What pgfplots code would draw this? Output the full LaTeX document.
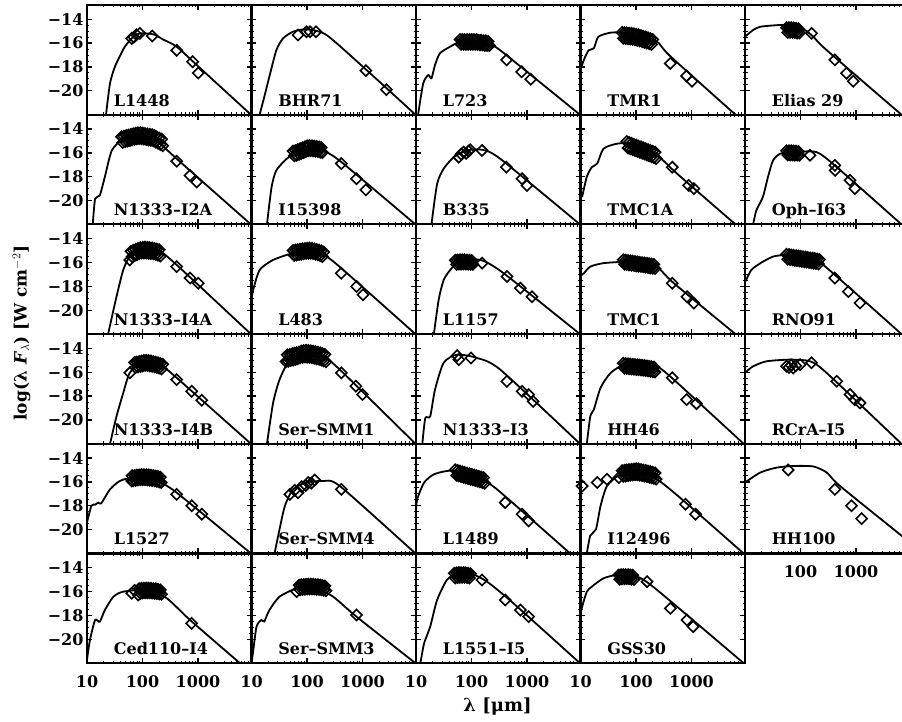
\documentclass[border=0pt]{standalone}
\usepackage{pgfplots}
\pgfplotsset{compat=1.18}
\usepackage{fontspec}
\setmainfont{DejaVu Serif}
\newcommand{\lbl}{\bfseries\fontsize{16}{18}\selectfont}
\pgfplotsset{
    scale only axis, width=164.5pt, height=109.7pt,
    xmin=10, xmax=9200, ymin=-22, ymax=-12.8,
    xtick={10,100,1000}, ytick={-20,-18,-16,-14},
    minor xtick={20,30,40,50,60,70,80,90,200,300,400,500,600,700,800,900,2000,3000,4000,5000,6000,7000,8000,9000},
    minor y tick num=3,
    xticklabels={}, yticklabels={},
    tick align=inside, major tick length=5pt, minor tick length=2.5pt,
    major tick style={black, line width=1.3pt},
    minor tick style={black, line width=1pt},
    axis line style={line width=2.2pt},
    tick label style={font=\lbl},
    xticklabel style={yshift=-9pt},
}
\tikzset{
  sedcurve/.style={black, line width=1.8pt, smooth, tension=0.4},
  seddiam/.style={black, only marks, mark=square, mark size=3.9pt, mark options={rotate=45, solid, line width=1.6pt}},
  sedname/.style={anchor=base west, font=\lbl, inner sep=0pt},
}
\begin{document}
\begin{tikzpicture}
\useasboundingbox (0,0) rectangle (902pt,722pt);
\clip (0,0) rectangle (902pt,722pt);
% ---------------- row 0
\begin{semilogxaxis}[anchor=south west, at={(87pt,607.3pt)}, yticklabels={−20,−18,−16,−14}]
\addplot[sedcurve] coordinates {(22,-22)(26,-19.35)(32,-17.95)(40,-17.0)(48,-16.3)(64,-15.6)(90,-15.18)(157,-15.26)(237,-15.7)(413,-16.3)(1090,-18.09)(9000,-22)};
\addplot[seddiam] coordinates {(64,-15.6)(70,-15.5)(78,-15.3)(90,-15.18)(150,-15.4)(413,-16.6)(800,-17.56)(1010,-18.5)};
\node[sedname] at (rel axis cs:0.162,0.078) {L1448};
\end{semilogxaxis}
\begin{semilogxaxis}[anchor=south west, at={(251.5pt,607.3pt)}]
\addplot[sedcurve] coordinates {(14,-22)(17,-20.5)(21,-18.8)(28,-16.6)(37,-15.6)(56,-15.04)(98,-14.84)(225,-15.32)(1180,-18.25)(9000,-22)};
\addplot[seddiam] coordinates {(69,-15.32)(98,-15.04)(113,-15.04)(145,-15.04)(1150,-18.3)(2700,-19.9)};
\node[sedname] at (rel axis cs:0.162,0.078) {BHR71};
\end{semilogxaxis}
\begin{semilogxaxis}[anchor=south west, at={(416pt,607.3pt)}]
\addplot[sedcurve] coordinates {(10.9,-22)(13.5,-19.37)(16.7,-18.67)(19,-18.95)(22,-17.83)(27,-16.85)(41,-16.3)(62,-15.88)(120,-15.75)(232,-16.3)(325,-16.58)(9000,-22)};
\addplot[seddiam] coordinates {(62,-15.7)(65,-16.1)(68,-15.7)(72,-16.1)(75,-15.7)(79,-16.1)(83,-15.7)(87,-16.1)(92,-15.7)(96,-16.1)(101,-15.7)(106,-16.1)(111,-15.7)(117,-16.1)(123,-15.7)(129,-16.1)(135,-15.75)(142,-16.15)(149,-15.75)(157,-16.15)(165,-15.8)(173,-16.2)(181,-15.8)(190,-16.2)(200,-15.85)(210,-16.2)(430,-17.4)(800,-18.4)(1170,-19.03)};
\node[sedname] at (rel axis cs:0.162,0.078) {L723};
\end{semilogxaxis}
\begin{semilogxaxis}[anchor=south west, at={(580.5pt,607.3pt)}]
\addplot[sedcurve] coordinates {(10,-18.25)(11.5,-17.4)(14,-16.6)(17.4,-16.43)(21,-15.46)(35,-15.12)(60,-15.12)(120,-15.4)(240,-15.88)(415,-17.1)(6200,-22)};
\addplot[seddiam] coordinates {(56,-15.1)(59,-15.6)(62,-15.12)(65,-15.62)(68,-15.14)(72,-15.64)(75,-15.16)(79,-15.66)(83,-15.18)(87,-15.68)(92,-15.22)(96,-15.72)(101,-15.26)(106,-15.78)(111,-15.3)(117,-15.82)(123,-15.36)(129,-15.88)(135,-15.42)(142,-15.94)(149,-15.48)(157,-16.0)(165,-15.55)(173,-16.05)(181,-15.62)(190,-16.12)(200,-15.7)(415,-17.7)(815,-18.75)(1020,-19.2)};
\node[sedname] at (rel axis cs:0.162,0.078) {TMR1};
\end{semilogxaxis}
\begin{semilogxaxis}[anchor=south west, at={(745pt,607.3pt)}]
\addplot[sedcurve] coordinates {(10,-15.46)(14,-14.9)(19,-14.62)(43,-14.48)(74,-14.56)(120,-14.9)(170,-15.46)(295,-16.58)(6600,-22)};
\addplot[seddiam] coordinates {(56,-14.7)(59,-15.1)(62,-14.7)(65,-15.1)(68,-14.7)(72,-15.1)(75,-14.72)(79,-15.12)(83,-14.75)(87,-15.15)(92,-14.8)(96,-15.15)(158,-15.18)(415,-17.4)(675,-18.53)(890,-19.2)};
\node[sedname] at (rel axis cs:0.162,0.078) {Elias 29};
\end{semilogxaxis}
% ---------------- row 1
\begin{semilogxaxis}[anchor=south west, at={(87pt,497.6pt)}, yticklabels={−20,−18,−16,−14}]
\addplot[sedcurve] coordinates {(12.7,-22)(14,-19.85)(17,-19.57)(21,-18.0)(28,-15.8)(45,-14.8)(79,-14.4)(130,-14.7)(210,-15.23)(413,-16.5)(9000,-22)};
\addplot[seddiam] coordinates {(42,-14.65)(44,-15.13)(46,-14.6)(49,-15.07)(51,-14.55)(54,-15.02)(56,-14.5)(59,-14.97)(62,-14.45)(65,-14.92)(68,-14.4)(72,-14.87)(75,-14.35)(79,-14.83)(83,-14.32)(87,-14.81)(92,-14.3)(96,-14.81)(101,-14.33)(106,-14.85)(111,-14.37)(117,-14.89)(123,-14.41)(129,-14.93)(135,-14.44)(142,-14.95)(149,-14.47)(157,-15.0)(165,-14.55)(173,-15.1)(181,-14.65)(190,-15.2)(200,-14.75)(210,-15.3)(220,-14.85)(231,-15.4)(413,-16.7)(720,-17.9)(950,-18.45)};
\node[sedname] at (rel axis cs:0.162,0.078) {N1333–I2A};
\end{semilogxaxis}
\begin{semilogxaxis}[anchor=south west, at={(251.5pt,497.6pt)}]
\addplot[sedcurve] coordinates {(19,-22)(23,-18.87)(28,-17.47)(43,-16.5)(65,-15.94)(113,-15.38)(225,-15.94)(450,-16.9)(9000,-22)};
\addplot[seddiam] coordinates {(56,-15.85)(59,-16.25)(62,-15.8)(65,-16.2)(68,-15.72)(72,-16.12)(75,-15.65)(79,-16.05)(83,-15.58)(87,-15.98)(92,-15.5)(96,-15.88)(101,-15.4)(106,-15.82)(111,-15.38)(117,-15.82)(123,-15.4)(129,-15.84)(135,-15.42)(142,-15.86)(149,-15.45)(157,-15.9)(165,-15.5)(173,-15.95)(181,-15.55)(190,-15.98)(415,-16.9)(780,-18.17)(1150,-19.1)};
\node[sedname] at (rel axis cs:0.162,0.078) {I15398};
\end{semilogxaxis}
\begin{semilogxaxis}[anchor=south west, at={(416pt,497.6pt)}]
\addplot[sedcurve] coordinates {(19,-22)(24,-18.6)(31.5,-17.33)(48,-16.36)(83,-15.8)(155,-15.74)(330,-16.5)(9000,-22)};
\addplot[seddiam] coordinates {(59,-16.36)(65,-16.1)(72,-15.94)(80,-16.05)(88,-15.85)(95,-15.74)(155,-15.8)(425,-17.2)(815,-18.17)(1000,-18.73)};
\node[sedname] at (rel axis cs:0.162,0.078) {B335};
\end{semilogxaxis}
\begin{semilogxaxis}[anchor=south west, at={(580.5pt,497.6pt)}]
\addplot[sedcurve] coordinates {(10.7,-19.7)(13,-18.0)(16,-17.2)(20,-16.9)(26,-15.65)(46,-15.23)(91,-15.23)(240,-16.2)(550,-17.75)(6200,-22)};
\addplot[seddiam] coordinates {(68,-15.05)(72,-15.59)(75,-15.12)(79,-15.66)(83,-15.2)(87,-15.73)(92,-15.27)(96,-15.81)(101,-15.35)(106,-15.88)(111,-15.42)(117,-15.96)(123,-15.49)(129,-16.03)(135,-15.57)(142,-16.1)(149,-15.64)(157,-16.18)(165,-15.72)(173,-16.25)(181,-15.79)(190,-16.33)(200,-15.87)(210,-16.4)(220,-15.94)(231,-16.48)(450,-17.2)(890,-18.73)(1100,-19.0)};
\node[sedname] at (rel axis cs:0.162,0.078) {TMC1A};
\end{semilogxaxis}
\begin{semilogxaxis}[anchor=south west, at={(745pt,497.6pt)}]
\addplot[sedcurve] coordinates {(14,-22)(16,-20.83)(21,-19.7)(26,-18.0)(32,-16.64)(43,-16.07)(74,-15.94)(195,-15.94)(450,-17.2)(6600,-22)};
\addplot[seddiam] coordinates {(56,-15.82)(59,-16.18)(62,-15.82)(65,-16.18)(68,-15.82)(72,-16.18)(75,-15.85)(79,-16.2)(83,-15.85)(87,-16.2)(92,-15.88)(96,-16.2)(148,-16.2)(415,-17.05)(420,-17.47)(780,-18.3)(950,-19.0)};
\node[sedname] at (rel axis cs:0.162,0.078) {Oph–I63};
\end{semilogxaxis}
% ---------------- row 2
\begin{semilogxaxis}[anchor=south west, at={(87pt,387.9pt)}, yticklabels={−20,−18,−16,−14}]
\addplot[sedcurve] coordinates {(24,-22)(34,-18.86)(45,-16.62)(59,-15.5)(97,-14.8)(190,-14.94)(413,-16.2)(9000,-22)};
\addplot[seddiam] coordinates {(59,-15.78)(62,-15.05)(65,-15.5)(68,-14.97)(72,-15.42)(75,-14.9)(79,-15.35)(83,-14.83)(87,-15.27)(92,-14.75)(96,-15.2)(101,-14.72)(106,-15.2)(111,-14.7)(117,-15.2)(123,-14.72)(129,-15.22)(135,-14.75)(142,-15.25)(149,-14.78)(157,-15.28)(165,-14.82)(173,-15.33)(181,-14.87)(190,-15.38)(200,-14.92)(210,-15.45)(413,-16.34)(720,-17.3)(1010,-17.73)};
\node[sedname] at (rel axis cs:0.162,0.078) {N1333–I4A};
\end{semilogxaxis}
\begin{semilogxaxis}[anchor=south west, at={(251.5pt,387.9pt)}]
\addplot[sedcurve] coordinates {(10,-19.0)(10.7,-18.3)(14,-16.62)(24.5,-15.78)(56,-15.2)(113,-14.94)(225,-15.5)(450,-16.62)(9000,-22)};
\addplot[seddiam] coordinates {(56,-14.98)(59,-15.4)(62,-14.95)(65,-15.37)(68,-14.92)(72,-15.34)(75,-14.88)(79,-15.3)(83,-14.85)(87,-15.27)(92,-14.82)(96,-15.23)(101,-14.8)(106,-15.22)(111,-14.78)(117,-15.22)(123,-14.8)(129,-15.25)(135,-14.85)(142,-15.3)(149,-14.9)(157,-15.35)(165,-14.95)(173,-15.42)(181,-15.02)(190,-15.5)(200,-15.12)(415,-16.9)(780,-18.0)(1020,-18.7)};
\node[sedname] at (rel axis cs:0.162,0.078) {L483};
\end{semilogxaxis}
\begin{semilogxaxis}[anchor=south west, at={(416pt,387.9pt)}]
\addplot[sedcurve] coordinates {(21,-22)(25.6,-19.13)(31.5,-17.46)(41.5,-16.62)(59,-15.92)(145,-15.78)(380,-16.9)(9000,-22)};
\addplot[seddiam] coordinates {(51,-15.8)(54,-16.15)(56,-15.78)(59,-16.13)(62,-15.77)(65,-16.12)(68,-15.76)(72,-16.12)(75,-15.77)(79,-16.13)(83,-15.78)(87,-16.14)(92,-15.8)(96,-16.15)(101,-15.82)(106,-16.15)(155,-16.05)(435,-17.17)(760,-18.15)(1230,-18.86)};
\node[sedname] at (rel axis cs:0.162,0.078) {L1157};
\end{semilogxaxis}
\begin{semilogxaxis}[anchor=south west, at={(580.5pt,387.9pt)}]
\addplot[sedcurve] coordinates {(10,-17.1)(11.5,-16.9)(15,-16.34)(26,-16.05)(69,-15.92)(138,-15.92)(240,-16.34)(480,-17.73)(6200,-22)};
\addplot[seddiam] coordinates {(59,-15.77)(62,-16.14)(65,-15.8)(68,-16.17)(72,-15.83)(75,-16.2)(79,-15.86)(83,-16.22)(87,-15.88)(92,-16.25)(96,-15.91)(101,-16.28)(106,-15.94)(111,-16.3)(117,-15.97)(123,-16.33)(129,-16.0)(135,-16.36)(142,-16.03)(149,-16.39)(157,-16.06)(165,-16.42)(173,-16.09)(181,-16.45)(190,-16.12)(200,-16.48)(210,-16.15)(220,-16.5)(450,-17.73)(830,-18.86)(1100,-19.4)};
\node[sedname] at (rel axis cs:0.162,0.078) {TMC1};
\end{semilogxaxis}
\begin{semilogxaxis}[anchor=south west, at={(745pt,387.9pt)}]
\addplot[sedcurve] coordinates {(10,-17.6)(10.5,-17.46)(13,-16.62)(19,-16.05)(32,-15.5)(56,-15.36)(130,-15.5)(258,-16.2)(6600,-22)};
\addplot[seddiam] coordinates {(56,-15.3)(59,-15.72)(62,-15.33)(65,-15.75)(68,-15.36)(72,-15.78)(75,-15.39)(79,-15.81)(83,-15.42)(87,-15.84)(92,-15.45)(96,-15.87)(101,-15.48)(106,-15.9)(111,-15.51)(117,-15.93)(123,-15.54)(129,-15.96)(135,-15.57)(142,-15.99)(149,-15.6)(157,-16.02)(165,-15.63)(173,-16.05)(181,-15.66)(190,-16.08)(200,-15.7)(210,-16.12)(220,-15.75)(415,-17.3)(730,-18.44)(1180,-19.4)};
\node[sedname] at (rel axis cs:0.162,0.078) {RNO91};
\end{semilogxaxis}
% ---------------- row 3
\begin{semilogxaxis}[anchor=south west, at={(87pt,278.2pt)}, yticklabels={−20,−18,−16,−14}]
\addplot[sedcurve] coordinates {(26,-22)(34,-19.7)(45,-17.73)(59,-16.05)(97,-15.2)(222,-15.5)(413,-16.47)(9000,-22)};
\addplot[seddiam] coordinates {(59,-16.05)(72,-15.18)(75,-15.6)(79,-15.14)(83,-15.56)(87,-15.1)(92,-15.52)(96,-15.06)(101,-15.48)(106,-15.0)(111,-15.42)(117,-15.0)(123,-15.44)(129,-15.02)(135,-15.47)(142,-15.05)(149,-15.5)(157,-15.1)(165,-15.55)(173,-15.15)(181,-15.6)(190,-15.2)(200,-15.65)(210,-15.25)(220,-15.72)(231,-15.33)(413,-16.62)(770,-17.6)(1170,-18.35)};
\node[sedname] at (rel axis cs:0.162,0.078) {N1333–I4B};
\end{semilogxaxis}
\begin{semilogxaxis}[anchor=south west, at={(251.5pt,278.2pt)}]
\addplot[sedcurve] coordinates {(19,-22)(24.5,-18.57)(32,-16.62)(49,-14.94)(98,-14.24)(195,-14.66)(390,-15.78)(9000,-22)};
\addplot[seddiam] coordinates {(42,-15.1)(44,-14.53)(46,-15.07)(49,-14.5)(51,-15.02)(54,-14.45)(56,-14.98)(59,-14.4)(62,-14.92)(65,-14.35)(68,-14.87)(72,-14.3)(75,-14.8)(79,-14.22)(83,-14.75)(87,-14.18)(92,-14.72)(96,-14.16)(101,-14.73)(106,-14.17)(111,-14.75)(117,-14.2)(123,-14.78)(129,-14.23)(135,-14.82)(142,-14.27)(149,-14.87)(157,-14.32)(165,-14.92)(173,-14.37)(181,-14.98)(190,-14.43)(200,-15.05)(210,-14.5)(220,-15.12)(415,-16.05)(760,-17.17)(1000,-17.87)};
\node[sedname] at (rel axis cs:0.162,0.078) {Ser–SMM1};
\end{semilogxaxis}
\begin{semilogxaxis}[anchor=south west, at={(416pt,278.2pt)}]
\addplot[sedcurve] coordinates {(13,-22)(14.7,-19.85)(18,-19.7)(22,-17.46)(31.5,-15.2)(55,-14.52)(125,-14.8)(330,-15.78)(9000,-22)};
\addplot[seddiam] coordinates {(55,-14.6)(59,-14.94)(98,-14.8)(435,-16.76)(815,-17.6)(1070,-17.87)(1290,-18.44)};
\node[sedname] at (rel axis cs:0.162,0.078) {N1333–I3};
\end{semilogxaxis}
\begin{semilogxaxis}[anchor=south west, at={(580.5pt,278.2pt)}]
\addplot[sedcurve] coordinates {(13,-22)(15,-19.7)(17.4,-19.13)(23,-17.3)(35,-16.05)(69,-15.2)(138,-15.2)(240,-15.5)(480,-16.62)(8700,-22)};
\addplot[seddiam] coordinates {(59,-15.25)(62,-15.67)(65,-15.27)(68,-15.69)(72,-15.29)(75,-15.71)(79,-15.31)(83,-15.73)(87,-15.33)(92,-15.75)(96,-15.35)(101,-15.77)(106,-15.37)(111,-15.79)(117,-15.39)(123,-15.81)(129,-15.41)(135,-15.83)(142,-15.44)(149,-15.86)(157,-15.47)(165,-15.89)(173,-15.5)(181,-15.92)(190,-15.53)(200,-15.95)(210,-15.56)(220,-15.98)(450,-16.47)(815,-18.3)(1230,-18.63)};
\node[sedname] at (rel axis cs:0.162,0.078) {HH46};
\end{semilogxaxis}
\begin{semilogxaxis}[anchor=south west, at={(745pt,278.2pt)}]
\addplot[sedcurve] coordinates {(10,-16.05)(14,-15.5)(24.5,-15.08)(65,-14.94)(148,-15.08)(295,-16.05)(6600,-22)};
\addplot[seddiam] coordinates {(56,-15.5)(62,-15.6)(68,-15.4)(74,-15.64)(82,-15.45)(98,-15.36)(158,-15.2)(450,-16.76)(780,-17.87)(950,-18.3)(1180,-18.57)};
\node[sedname] at (rel axis cs:0.162,0.078) {RCrA–I5};
\end{semilogxaxis}
% ---------------- row 4
\begin{semilogxaxis}[anchor=south west, at={(87pt,168.5pt)}, yticklabels={−20,−18,−16,−14}]
\addplot[sedcurve] coordinates {(10,-19.4)(12,-18.0)(14,-17.9)(16,-17.73)(18,-17.8)(26,-16.62)(39,-15.92)(68,-15.64)(180,-15.92)(413,-16.9)(9000,-22)};
\addplot[seddiam] coordinates {(64,-15.92)(65,-15.48)(68,-15.9)(72,-15.45)(75,-15.87)(79,-15.42)(83,-15.84)(87,-15.4)(92,-15.82)(96,-15.38)(101,-15.82)(106,-15.38)(111,-15.82)(117,-15.39)(123,-15.83)(129,-15.41)(135,-15.85)(142,-15.43)(149,-15.88)(157,-15.46)(165,-15.91)(173,-15.5)(181,-15.95)(190,-15.55)(200,-16.0)(210,-15.6)(218,-16.05)(413,-17.04)(770,-18.0)(1170,-18.7)};
\node[sedname] at (rel axis cs:0.162,0.078) {L1527};
\end{semilogxaxis}
\begin{semilogxaxis}[anchor=south west, at={(251.5pt,168.5pt)}]
\addplot[sedcurve] coordinates {(26,-22)(32,-19.97)(40,-18.0)(56,-16.62)(98,-16.05)(195,-15.92)(390,-16.34)(9000,-22)};
\addplot[seddiam] coordinates {(49,-17.04)(60,-16.7)(69,-16.9)(80,-16.4)(95,-16.3)(105,-16.05)(120,-16.1)(138,-15.84)(415,-16.62)};
\node[sedname] at (rel axis cs:0.162,0.078) {Ser–SMM4};
\end{semilogxaxis}
\begin{semilogxaxis}[anchor=south west, at={(416pt,168.5pt)}]
\addplot[sedcurve] coordinates {(10,-18.5)(10.5,-17.46)(14,-16.05)(21,-15.36)(36,-15.08)(63,-15.08)(145,-15.78)(288,-16.62)(6000,-22)};
\addplot[seddiam] coordinates {(51,-14.98)(54,-15.45)(56,-15.03)(59,-15.5)(62,-15.09)(65,-15.56)(68,-15.14)(72,-15.61)(75,-15.2)(79,-15.67)(83,-15.25)(87,-15.72)(92,-15.31)(96,-15.78)(101,-15.36)(106,-15.83)(111,-15.41)(117,-15.88)(123,-15.47)(129,-15.94)(135,-15.52)(142,-15.99)(149,-15.58)(157,-16.05)(165,-15.63)(173,-16.1)(405,-17.73)(815,-18.7)(1070,-19.27)};
\node[sedname] at (rel axis cs:0.162,0.078) {L1489};
\end{semilogxaxis}
\begin{semilogxaxis}[anchor=south west, at={(580.5pt,168.5pt)}]
\addplot[sedcurve] coordinates {(13,-22)(15,-20.5)(19,-19.97)(23,-18.0)(30,-16.34)(52,-15.36)(105,-15.08)(240,-15.78)(730,-17.6)(8700,-22)};
\addplot[seddiam] coordinates {(10.7,-16.34)(20,-16.05)(30,-15.78)(49,-15.64)(56,-15.05)(59,-15.53)(62,-15.02)(65,-15.5)(68,-14.99)(72,-15.47)(75,-14.96)(79,-15.44)(83,-14.93)(87,-15.41)(92,-14.91)(96,-15.4)(101,-14.9)(106,-15.4)(111,-14.92)(117,-15.43)(123,-14.95)(129,-15.47)(135,-14.99)(142,-15.51)(149,-15.03)(157,-15.55)(165,-15.08)(173,-15.6)(181,-15.13)(190,-15.65)(200,-15.18)(210,-15.7)(220,-15.24)(231,-15.76)(780,-17.87)(1180,-18.7)};
\node[sedname] at (rel axis cs:0.162,0.078) {I12496};
\end{semilogxaxis}
\begin{semilogxaxis}[anchor=south west, at={(745pt,168.5pt)}, xticklabels={,100,1000}]
\addplot[sedcurve] coordinates {(10,-16.05)(19,-15.2)(37,-14.8)(74,-14.66)(170,-14.7)(295,-15.2)(515,-16.34)(6600,-20.5)(9200,-21.0)};
\addplot[seddiam] coordinates {(60,-14.99)(415,-16.62)(830,-18.0)(1260,-19.08)};
\node[sedname] at (rel axis cs:0.162,0.078) {HH100};
\end{semilogxaxis}
% ---------------- row 5
\begin{semilogxaxis}[anchor=south west, at={(87pt,58.8pt)}, yticklabels={−20,−18,−16,−14}, xticklabels={10,100,1000}]
\addplot[sedcurve] coordinates {(10,-21.7)(11.3,-20.06)(14,-18.38)(17,-18.52)(21,-17.54)(30,-16.42)(45,-16.0)(120,-15.86)(275,-16.56)(720,-18.38)(5700,-22)};
\addplot[seddiam] coordinates {(64,-16.14)(72,-15.9)(84,-16.28)(87,-15.75)(92,-16.15)(96,-15.72)(101,-16.12)(106,-15.7)(111,-16.1)(117,-15.7)(123,-16.1)(129,-15.7)(135,-16.1)(142,-15.72)(149,-16.12)(157,-15.74)(165,-16.14)(173,-15.76)(181,-16.16)(190,-15.8)(200,-16.2)(210,-15.85)(220,-16.22)(770,-18.66)};
\node[sedname] at (rel axis cs:0.162,0.078) {Ced110–I4};
\end{semilogxaxis}
\begin{semilogxaxis}[anchor=south west, at={(251.5pt,58.8pt)}, xticklabels={10,100,1000}]
\addplot[sedcurve] coordinates {(10,-22)(10.6,-21.17)(12.3,-18.94)(15,-18.38)(17,-18.5)(21,-17.54)(32,-16.42)(65,-15.72)(129,-15.58)(295,-16.42)(780,-18.1)(9000,-22)};
\addplot[seddiam] coordinates {(65,-16.0)(72,-15.45)(75,-15.85)(79,-15.42)(83,-15.82)(87,-15.4)(92,-15.8)(96,-15.38)(101,-15.78)(106,-15.37)(111,-15.77)(117,-15.37)(123,-15.77)(129,-15.38)(135,-15.78)(142,-15.4)(149,-15.8)(157,-15.42)(165,-15.82)(173,-15.45)(181,-15.85)(190,-15.48)(200,-15.88)(210,-15.52)(220,-15.92)(780,-17.96)};
\node[sedname] at (rel axis cs:0.162,0.078) {Ser–SMM3};
\end{semilogxaxis}
\begin{semilogxaxis}[anchor=south west, at={(416pt,58.8pt)}, xticklabels={10,100,1000}]
\addplot[sedcurve] coordinates {(12,-22)(14,-20.33)(18,-18.94)(24,-16.7)(36,-15.02)(55,-14.46)(95,-14.46)(190,-15.16)(570,-16.98)(9000,-22)};
\addplot[seddiam] coordinates {(49,-14.45)(51,-14.85)(54,-14.42)(56,-14.82)(59,-14.4)(62,-14.8)(65,-14.4)(68,-14.8)(72,-14.4)(75,-14.8)(79,-14.42)(83,-14.82)(87,-14.45)(92,-14.85)(96,-14.5)(155,-15.02)(405,-16.7)(760,-17.54)(1070,-18.1)};
\node[sedname] at (rel axis cs:0.162,0.078) {L1551–I5};
\end{semilogxaxis}
\begin{semilogxaxis}[anchor=south west, at={(580.5pt,58.8pt)}, xticklabels={10,100,1000}]
\addplot[sedcurve] coordinates {(10,-17.9)(10.7,-17.26)(13,-16.0)(16,-15.58)(26,-14.88)(46,-14.6)(105,-14.74)(240,-15.86)(8700,-22)};
\addplot[seddiam] coordinates {(49,-14.6)(51,-14.95)(54,-14.58)(56,-14.93)(59,-14.57)(62,-14.92)(65,-14.57)(68,-14.92)(72,-14.58)(75,-14.93)(79,-14.6)(83,-14.95)(87,-14.62)(92,-14.97)(158,-15.16)(415,-17.4)(830,-18.38)(1070,-18.94)};
\node[sedname] at (rel axis cs:0.162,0.078) {GSS30};
\end{semilogxaxis}
% ---------------- axis titles
\node[rotate=90, font=\bfseries\fontsize{17}{19}\selectfont] at (21.5pt,389pt) {log(λ \textit{F}$_\lambda$) [W cm$^{-2}$]};
\node[font=\bfseries\fontsize{18}{20}\selectfont] at (497.5pt,15pt) {λ [μm]};
\end{tikzpicture}
\end{document}
